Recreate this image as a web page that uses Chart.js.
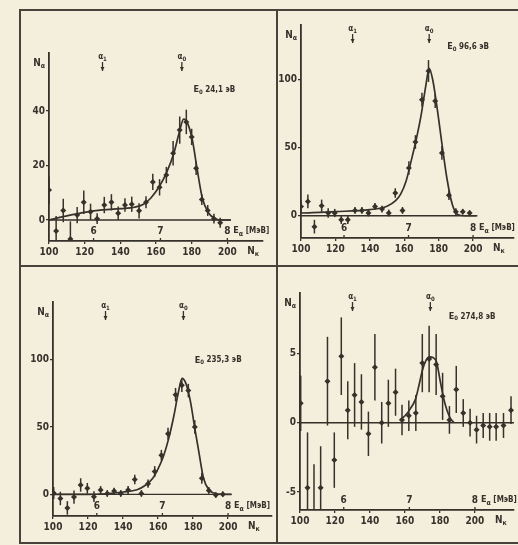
<!DOCTYPE html>
<html lang="ru">
<head>
<meta charset="UTF-8">
<title>Альфа-спектры на резонансах</title>
<script src="https://cdn.jsdelivr.net/npm/chart.js"></script>
<style>
    body {
        margin: 0;
        width: 518px;
        height: 545px;
        overflow: hidden;
        position: relative;
        background: #f4efdc;
    }
    .line { position: absolute; background: #47433c; }
    .cell { position: absolute; }
    .cell canvas { display: block; }
</style>
</head>
<body>

<div class="line" style="left:19px;top:9px;width:499px;height:2px"></div>
<div class="line" style="left:19px;top:9px;width:2px;height:535px"></div>
<div class="line" style="left:19px;top:542px;width:499px;height:2px"></div>
<div class="line" style="left:276px;top:9px;width:2px;height:535px"></div>
<div class="line" style="left:19px;top:265px;width:499px;height:2px"></div>

<div class="cell" id="c1" style="left:21px;top:11px"><canvas id="p1" width="255" height="254"></canvas></div>
<div class="cell" id="c2" style="left:278px;top:11px"><canvas id="p2" width="240" height="254"></canvas></div>
<div class="cell" id="c3" style="left:21px;top:267px"><canvas id="p3" width="255" height="275"></canvas></div>
<div class="cell" id="c4" style="left:278px;top:267px"><canvas id="p4" width="240" height="275"></canvas></div>

<script>
// --- tick labels ---
const nTicks = [100, 120, 140, 160, 180, 200];      // channel number
const eTicks = [6, 7, 8];                           // alpha energy, MeV
const eTickCh = [125, 162.5, 200];                  // channel where each energy tick sits
const alphaLines = ['1', '0'];
const alphaCh = [130, 174.5];

// --- panel 1: E0 = 24,1 eV ---
const p1Ch  = [100, 104, 108, 112, 115.8, 119.5, 123.3, 127, 131, 135, 138.8, 142.6, 146.4, 150.5, 154.4, 158.2, 162, 165.8, 169.6, 173.3, 177, 180, 182.5, 185.7, 189, 192.5, 196];
const p1N   = [11, -4, 3.5, -7, 1.8, 6.5, 3, 0.5, 5.5, 6.5, 2.5, 5.5, 5.8, 3.4, 6.5, 14, 12, 16.5, 24.5, 33, 36, 30.5, 19, 7.5, 3.5, 0.5, -1];
const p1Err = [5, 5.5, 4.3, 6.5, 3, 4.3, 3, 2, 3, 3, 2.5, 2.5, 2.8, 2.8, 2.2, 3, 3, 3, 4.5, 5, 4.5, 3, 2.5, 2, 2, 1.8, 1.8];
const p1FitCh = [100, 110, 120, 130, 140, 148, 153, 157, 162, 166, 170, 173, 175.5, 178, 180.5, 183, 186, 189.5, 193, 197, 202];
const p1FitN  = [0, 1.5, 2.8, 3.7, 4.2, 4.7, 5.8, 8, 12.5, 17.5, 24.5, 32, 37, 35, 29, 19, 8, 2.6, 0.6, 0, 0];
const p1Yticks = [0, 20, 40];

// --- panel 2: E0 = 96,6 eV ---
const p2Ch  = [100, 104, 107.8, 112, 115.8, 119.6, 123.4, 127.2, 131.4, 135.4, 139.2, 143, 147.1, 151, 154.8, 159, 162.7, 166.5, 170.3, 174.1, 178, 181.9, 186, 190, 194, 198];
const p2N   = [6.8, 10.5, -8, 7.3, 2, 2, -3, -3, 3.9, 3.9, 2, 6.8, 4.9, 2, 16.6, 3.9, 35, 54, 85, 106, 84, 46, 15, 3, 3, 2];
const p2Err = [5, 5, 5, 4.5, 3.5, 3, 3, 3, 2.5, 2.5, 2.5, 2.5, 2.5, 2.5, 3.5, 2.5, 5, 5, 5, 8, 5, 5, 3.5, 2.5, 2, 2];
const p2FitCh = [100, 120, 140, 150, 155, 158, 161, 164, 167, 170, 172.5, 174.5, 176.5, 179, 182, 185, 188, 191, 195, 202];
const p2FitN  = [2, 3, 4.5, 7, 11, 16, 25, 40, 56, 75, 95, 108, 100, 80, 52, 26, 8, 1, 0, 0];
const p2Yticks = [0, 50, 100];

// --- panel 3: E0 = 235,3 eV ---
const p3Ch  = [100.4, 104.2, 108.2, 112, 115.8, 119.6, 123.4, 127.2, 131, 134.9, 138.7, 142.9, 146.7, 150.5, 154.3, 158.1, 161.9, 165.7, 170, 173.6, 177.3, 181, 185, 189, 193, 197];
const p3N   = [1, -3, -10, -2, 7, 4.5, -1.7, 3.2, 0.7, 2.5, 0.7, 3.2, 11, 0.7, 8, 17, 29, 45, 74, 81, 77, 50, 12, 3, -0.5, 0.2];
const p3Err = [4.5, 5, 5, 5, 5, 4, 4, 3, 2.5, 2.5, 2.5, 3, 3.5, 2.5, 3, 4, 4, 4.5, 5, 5, 5, 5, 4, 2.5, 2, 2];
const p3FitCh = [100, 120, 130, 140, 148, 153, 157, 160, 163, 166, 169, 171.5, 173.7, 176, 178.5, 181, 183.5, 186, 189, 192, 196, 202];
const p3FitN  = [0, 0, 0.5, 1.8, 3.5, 7, 12, 19, 28, 41, 58, 75, 86, 82, 69, 49, 30, 12, 3.5, 1, 0, 0];
const p3Yticks = [0, 50, 100];

// --- panel 4: E0 = 274,8 eV ---
const p4Ch  = [100.4, 104.3, 108, 111.8, 115.7, 119.6, 123.6, 127.3, 131.2, 135.1, 139.1, 142.8, 146.7, 150.5, 154.6, 158.3, 162.2, 166.2, 169.9, 173.8, 177.8, 181.5, 185.4, 189.3, 193.3, 197.2, 200.9, 204.7, 208.4, 212.1, 216.3, 220.6];
const p4N   = [1.4, -4.7, -6.5, -4.7, 3, -2.7, 4.8, 0.9, 2, 1.5, -0.8, 4, 0, 1.4, 2.2, 0.2, 0.5, 0.7, 4.3, 4.6, 4.2, 1.9, 0.2, 2.4, 0.7, 0, -0.5, -0.2, -0.3, -0.3, -0.2, 0.9];
const p4Err = [2, 4, 3.5, 3, 3.2, 2, 2.8, 2.1, 2.3, 2, 1.6, 2.4, 1.5, 1.7, 1.7, 1.1, 1.1, 1.3, 2.1, 2.4, 2.2, 1.7, 1, 1.7, 1, 1, 1, 0.9, 1, 1, 0.9, 1];
const p4FitCh = [157, 160, 163, 166, 168, 170, 172, 174, 176, 178, 180, 182, 184, 186, 188];
const p4FitN  = [0.2, 0.5, 1.0, 1.7, 2.7, 3.8, 4.5, 4.75, 4.7, 4.4, 3.1, 1.8, 0.9, 0.3, 0];
const p4Yticks = [-5, 0, 5];

const ink = '#35312b';
const FONT = '"Liberation Sans Narrow", "DejaVu Sans Condensed", "Liberation Sans", sans-serif';
Chart.defaults.font.family = FONT;
Chart.defaults.color = ink;

// layout of each panel on the page: cell [left, top, w, h], plot area [L, T, R, B]
const panels = [
    { canvas: 'p1', cell: [21, 11, 255, 254], area: [49, 53, 263, 241], xMax: 220, yMin: -7.7, yMax: 61.3,
      ch: p1Ch, n: p1N, err: p1Err, fitCh: p1FitCh, fitN: p1FitN, yTicks: p1Yticks,
      zeroEnd: 202, title: ' 24,1 эВ', titleAt: [181, 47.7] },
    { canvas: 'p2', cell: [278, 11, 240, 254], area: [301, 25, 518, 238], xMax: 223.8, yMin: -16.3, yMax: 139.7,
      ch: p2Ch, n: p2N, err: p2Err, fitCh: p2FitCh, fitN: p2FitN, yTicks: p2Yticks,
      zeroEnd: 202.5, title: ' 96,6 эВ', titleAt: [185, 123.6] },
    { canvas: 'p3', cell: [21, 267, 255, 275], area: [53, 302, 272, 516], xMax: 225.1, yMin: -16, yMax: 142.7,
      ch: p3Ch, n: p3N, err: p3Err, fitCh: p3FitCh, fitN: p3FitN, yTicks: p3Yticks,
      zeroEnd: 202, title: ' 235,3 эВ', titleAt: [181, 99.5] },
    { canvas: 'p4', cell: [278, 267, 240, 275], area: [300, 293, 518, 510], xMax: 222.3, yMin: -6.3, yMax: 9.36,
      ch: p4Ch, n: p4N, err: p4Err, fitCh: p4FitCh, fitN: p4FitN, yTicks: p4Yticks,
      zeroEnd: 222.3, title: ' 274,8 эВ', titleAt: [185, 7.64] }
];

// text made of pieces [text, size, dy]; align 'left' | 'center' | 'right'
function drawParts(ctx, x, y, parts, align) {
    let w = 0;
    parts.forEach(([t, s]) => { ctx.font = `bold ${s}px ${FONT}`; w += ctx.measureText(t).width; });
    let cx = align === 'right' ? x - w : align === 'center' ? x - w / 2 : x;
    ctx.textAlign = 'left';
    ctx.textBaseline = 'middle';
    parts.forEach(([t, s, dy]) => {
        ctx.font = `bold ${s}px ${FONT}`;
        ctx.fillText(t, cx, y + (dy || 0));
        cx += ctx.measureText(t).width;
    });
}

function decor(p) {
    return {
        id: 'decor',
        afterDatasetsDraw(chart) {
            // vertical error bars
            const { ctx, scales: { x, y } } = chart;
            ctx.save();
            ctx.strokeStyle = ink;
            ctx.lineWidth = 1.5;
            p.ch.forEach((c, i) => {
                const lo = Math.max(p.n[i] - p.err[i], y.min);
                const hi = Math.min(p.n[i] + p.err[i], y.max);
                const px = x.getPixelForValue(c);
                ctx.beginPath();
                ctx.moveTo(px, y.getPixelForValue(lo));
                ctx.lineTo(px, y.getPixelForValue(hi));
                ctx.stroke();
            });
            ctx.restore();
        },
        afterDraw(chart) {
            const { ctx, chartArea: a, scales: { x, y } } = chart;
            ctx.save();
            ctx.fillStyle = ink;
            ctx.strokeStyle = ink;
            ctx.lineWidth = 1.3;

            // energy ticks above the axis line
            eTicks.forEach((e, i) => {
                const px = x.getPixelForValue(eTickCh[i]);
                ctx.beginPath();
                ctx.moveTo(px, a.bottom);
                ctx.lineTo(px, a.bottom - 3);
                ctx.stroke();
                drawParts(ctx, px, a.bottom - 10, [[String(e), 10]], 'center');
            });
            const p8 = x.getPixelForValue(eTickCh[eTickCh.length - 1]);
            drawParts(ctx, p8 + 6, a.bottom - 10, [['E', 9], ['α', 7, 3], [' [МэВ]', 8]], 'left');

            // axis names
            const p200 = x.getPixelForValue(nTicks[nTicks.length - 1]);
            drawParts(ctx, p200 + 20, a.bottom + 10, [['N', 10], ['к', 7, 3]], 'left');
            drawParts(ctx, a.left - 4, a.top + 10, [['N', 10], ['α', 7, 3]], 'right');

            // alpha group markers
            alphaCh.forEach((c, i) => {
                const px = x.getPixelForValue(c);
                drawParts(ctx, px, a.top + 4, [['α', 8], [alphaLines[i], 6, 2]], 'center');
                ctx.beginPath();
                ctx.moveTo(px, a.top + 9);
                ctx.lineTo(px, a.top + 18);
                ctx.stroke();
                ctx.beginPath();
                ctx.moveTo(px - 2, a.top + 14);
                ctx.lineTo(px + 2, a.top + 14);
                ctx.lineTo(px, a.top + 18);
                ctx.fill();
            });

            // resonance energy
            drawParts(ctx, x.getPixelForValue(p.titleAt[0]), y.getPixelForValue(p.titleAt[1]),
                [['E', 9], ['0', 6, 2], [p.title, 8]], 'left');
            ctx.restore();
        }
    };
}

panels.forEach(p => {
    const [cx, cy, cw, chh] = p.cell;
    const [L, T, R, B] = p.area;
    const yW = L - cx;
    const xH = cy + chh - B;
    new Chart(document.getElementById(p.canvas), {
        type: 'scatter',
        data: {
            datasets: [
                {   // zero level
                    type: 'line',
                    data: [{ x: nTicks[0], y: 0 }, { x: p.zeroEnd, y: 0 }],
                    borderColor: ink, borderWidth: 1.4, pointRadius: 0
                },
                {   // fitted curve
                    type: 'line',
                    data: p.fitCh.map((c, i) => ({ x: c, y: p.fitN[i] })),
                    borderColor: ink, borderWidth: 1.7, pointRadius: 0,
                    cubicInterpolationMode: 'monotone'
                },
                {   // measured counts
                    data: p.ch.map((c, i) => ({ x: c, y: p.n[i] })),
                    backgroundColor: ink, borderColor: ink,
                    pointStyle: 'rectRot', pointRadius: 3, borderWidth: 0
                }
            ]
        },
        options: {
            responsive: false,
            animation: false,
            events: [],
            layout: { padding: { left: 0, top: T - cy, right: cx + cw - R, bottom: 0 } },
            plugins: { legend: { display: false }, tooltip: { enabled: false } },
            scales: {
                x: {
                    type: 'linear', min: nTicks[0], max: p.xMax,
                    afterBuildTicks: s => { s.ticks = nTicks.map(v => ({ value: v })); },
                    afterFit: s => { s.height = xH; },
                    grid: { drawOnChartArea: false, tickLength: 3, color: ink, lineWidth: 1.3 },
                    border: { color: ink, width: 1.8 },
                    ticks: { padding: 2, font: { size: 10, weight: 'bold' }, color: ink, maxRotation: 0, autoSkip: false }
                },
                y: {
                    type: 'linear', min: p.yMin, max: p.yMax,
                    afterBuildTicks: s => { s.ticks = p.yTicks.map(v => ({ value: v })); },
                    afterFit: s => { s.width = yW; },
                    grid: { drawOnChartArea: false, tickLength: 3, color: ink, lineWidth: 1.3 },
                    border: { color: ink, width: 1.8 },
                    ticks: { padding: 1, font: { size: 10, weight: 'bold' }, color: ink }
                }
            }
        },
        plugins: [decor(p)]
    });
});
</script>
</body>
</html>
